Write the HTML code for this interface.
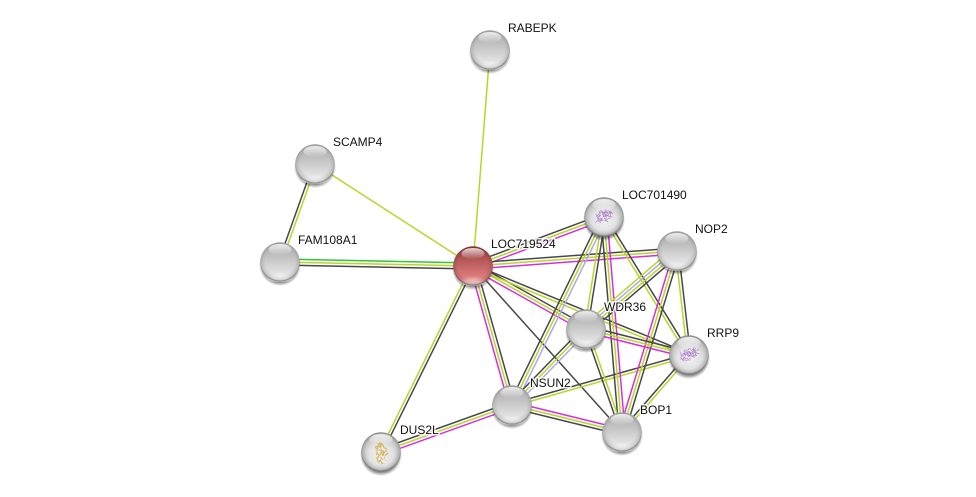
<!DOCTYPE html>
<html><head><meta charset="utf-8">
<style>
html,body{margin:0;padding:0;background:#fff}
svg{display:block}
text{font-family:"Liberation Sans",sans-serif;font-size:12px;fill:#111;paint-order:stroke;stroke:rgba(255,255,255,.85);stroke-width:3px;stroke-linejoin:round}
</style></head>
<body>
<svg id="s" width="976" height="497" viewBox="0 0 976 497" xmlns="http://www.w3.org/2000/svg">
<defs>
<linearGradient id="g" x1="0" y1="0" x2="0" y2="1">
<stop offset="0" stop-color="#a8a8a8"/><stop offset=".35" stop-color="#c0c0c0"/><stop offset=".7" stop-color="#dcdcdc"/><stop offset="1" stop-color="#f2f2f2"/>
</linearGradient>
<radialGradient id="w" cx="50%" cy="58%" r="60%">
<stop offset="0" stop-color="#f2f2f2"/><stop offset=".5" stop-color="#e2e2e2"/><stop offset=".8" stop-color="#c2c2c2"/><stop offset="1" stop-color="#8a8a8a"/>
</radialGradient>
<linearGradient id="r" x1="0" y1="0" x2="0" y2="1">
<stop offset="0" stop-color="#8e3434"/><stop offset=".35" stop-color="#b45858"/><stop offset=".7" stop-color="#d87676"/><stop offset="1" stop-color="#f29090"/>
</linearGradient>
<radialGradient id="v" cx="50%" cy="46%" r="52%">
<stop offset=".72" stop-color="#000" stop-opacity="0"/><stop offset=".93" stop-color="#000" stop-opacity=".12"/><stop offset="1" stop-color="#000" stop-opacity=".42"/>
</radialGradient>
<radialGradient id="c" cx="50%" cy="100%" r="55%">
<stop offset=".45" stop-color="#fff" stop-opacity=".55"/><stop offset="1" stop-color="#fff" stop-opacity="0"/>
</radialGradient>
<linearGradient id="h" x1="0" y1="0" x2="0" y2="1">
<stop offset="0" stop-color="#fff" stop-opacity=".8"/><stop offset="1" stop-color="#fff" stop-opacity=".02"/>
</linearGradient>
<radialGradient id="sh" cx="50%" cy="50%" r="50%">
<stop offset=".8" stop-color="#000" stop-opacity=".5"/><stop offset="1" stop-color="#000" stop-opacity="0"/>
</radialGradient>
<filter id="b" x="-20%" y="-20%" width="140%" height="140%"><feGaussianBlur stdDeviation=".3"/></filter>
</defs>
<g id="e" fill="none" stroke-width="1.5"></g>
<text x="508" y="32">RABEPK</text>
<text x="333" y="146">SCAMP4</text>
<text x="298" y="244">FAM108A1</text>
<text x="491" y="248">LOC719524</text>
<text x="622" y="199">LOC701490</text>
<text x="695" y="233">NOP2</text>
<text x="604" y="311">WDR36</text>
<text x="707" y="337">RRP9</text>
<text x="530" y="387">NSUN2</text>
<text x="640" y="414">BOP1</text>
<text x="400" y="434">DUS2L</text>
<g id="n"></g>
</svg>
<script>
var N={RA:[490,50],SC:[315,164],FA:[280,262],LO:[473,266],L7:[604,217],NO:[677,251],WD:[586,329],RR:[689,355],NS:[512,405],BO:[622,432],DU:[381,452]};
var d='#484848',l='#b9d52b',m='#d82ed8',b='#a9a9ee',g='#35c435';
var E=[['RA','LO',[l]],['SC','LO',[l]],['SC','FA',[l,d]],['FA','LO',[g,l,d]],['LO','DU',[d,l]],
['LO','L7',[d,l,m]],['LO','NO',[d,l,m]],['LO','WD',[d,l,m]],['LO','RR',[d,l]],['LO','NS',[d,l,m]],['LO','BO',[d]],
['DU','NS',[d,l,m]],['NS','L7',[d,l,b]],['NS','WD',[d,l,b]],['NS','RR',[d,l]],['NS','BO',[m,l,d]],
['WD','L7',[l,d]],['L7','BO',[m,l,d]],['L7','RR',[d,l]],['WD','NO',[l,b,l,d]],['NO','BO',[d,l,m]],['NO','RR',[d,l]],
['WD','RR',[d,l,m]],['WD','BO',[l,d]],['RR','BO',[l,d]]];
var h='';
E.forEach(function(e){var A=N[e[0]],B=N[e[1]],x=B[0]-A[0],y=B[1]-A[1],L=Math.hypot(x,y),nx=y/L,ny=-x/L,c=e[2];
c.forEach(function(col,i){var o=((c.length-1)/2-i)*3;
h+='<line x1="'+(A[0]+nx*o).toFixed(1)+'" y1="'+(A[1]+ny*o).toFixed(1)+'" x2="'+(B[0]+nx*o).toFixed(1)+'" y2="'+(B[1]+ny*o).toFixed(1)+'" stroke="'+col+'"/>';});});
document.getElementById('e').innerHTML=h;
var T={L7:'#a878c8',RR:'#a878c8',DU:'#d2a840'},q='',seed=7;
function rnd(){seed=(seed*16807)%2147483647;return seed/2147483647;}
for(var k in N){var x=N[k][0],y=N[k][1],f=k=='LO'?'r':(T[k]?'w':'g');
q+='<ellipse cx="'+x+'" cy="'+(y+3)+'" rx="21" ry="21" fill="url(#sh)"/><circle cx="'+x+'" cy="'+y+'" r="19.8" fill="url(#'+f+')"/>';
if(!T[k])q+='<ellipse cx="'+x+'" cy="'+(y+11)+'" rx="17" ry="9" fill="url(#c)"/>';
if(T[k]){var p='';for(var i=0;i<90;i++){var a=rnd()*6.283,rr=Math.sqrt(rnd());var sx=x+Math.cos(a)*rr*(k=='DU'?6:9),sy=y+Math.sin(a)*rr*(k=='DU'?11:6)-(k=='DU'?0:Math.cos(a)*rr*3);
p+='M'+sx.toFixed(1)+' '+sy.toFixed(1)+'l'+((rnd()-.5)*5).toFixed(1)+' '+((rnd()-.5)*5).toFixed(1);}
q+='<path d="'+p+'" fill="none" stroke="'+T[k]+'" stroke-width=".7" opacity=".85" filter="url(#b)"/>';}
q+='<circle cx="'+x+'" cy="'+y+'" r="19.8" fill="url(#v)"/>';
q+='<ellipse cx="'+x+'" cy="'+(y-12.5)+'" rx="11.5" ry="5.5" fill="url(#h)"/>';}
document.getElementById('n').innerHTML=q;
</script>
</body></html>
